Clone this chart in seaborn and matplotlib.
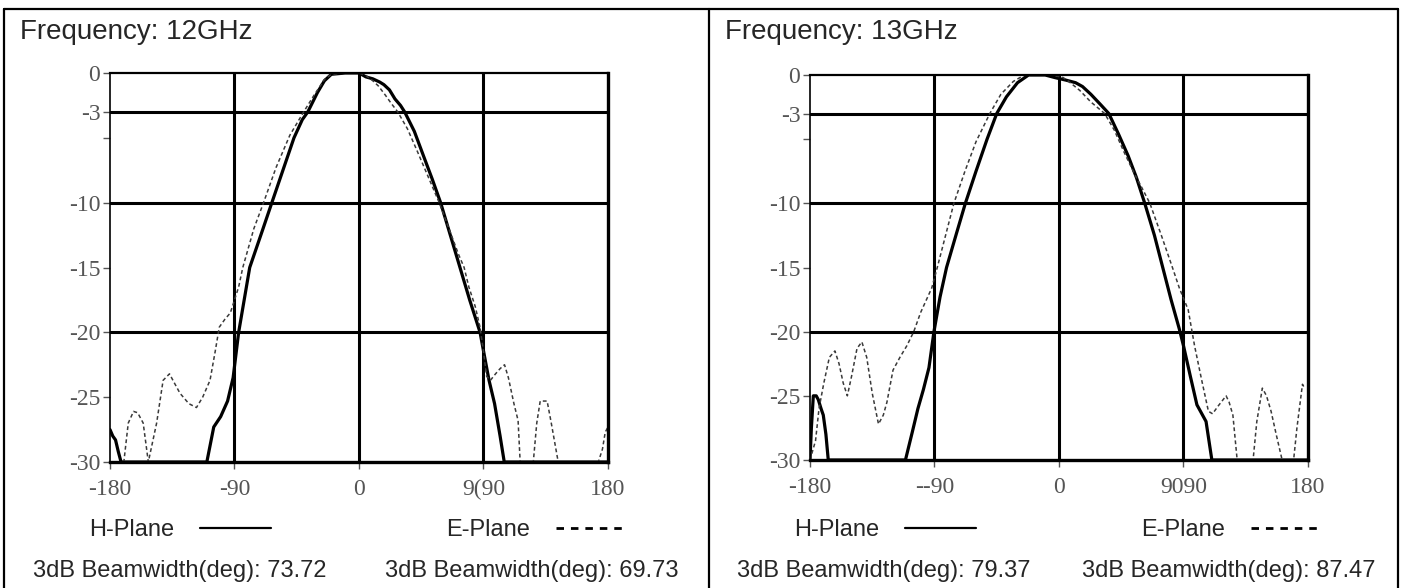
import matplotlib
matplotlib.use("Agg")
import matplotlib.pyplot as plt
from matplotlib.lines import Line2D
import pandas as pd
import seaborn as sns

# ---- 12 GHz pattern cuts: angle (deg) vs. normalised level (dB), floor at -30 dB ----
h12_deg = [-180, -178, -176, -174, -172, -110, -105, -100, -95, -91, -87, -83, -79,
           -70, -63, -55, -47, -41, -37, -30, -25, -20, -10, 0, 5, 10, 15, 18, 22,
           26, 30, 33, 40, 47, 53, 59, 66, 73, 80, 87.5, 91, 94, 98, 102, 105, 180]
h12_db = [-27.5, -28.0, -28.3, -29.2, -30, -30, -27.3, -26.5, -25.3, -23.5, -20, -17.5, -15,
          -12.2, -10, -7.5, -5, -3.6, -3, -1.5, -0.6, -0.1, 0, 0, -0.3, -0.45, -0.7, -0.9, -1.3,
          -2.0, -2.5, -3, -4.5, -6.5, -8.2, -10, -12.5, -15, -17.5, -20, -22, -23.7, -25.5, -28, -30, -30]

e12_deg = [-180, -170, -166.8, -163, -160, -156, -152.3, -146.3, -141.6, -137, -134, -129.4,
           -123, -117.5, -113, -107.7, -104, -101, -97, -93, -87, -84, -76, -69, -60, -50,
           -40, -33, -25, -20, -10, 0, 5, 10, 14, 19, 23, 28, 35, 42, 50, 58, 65, 72, 76,
           79.4, 84, 87.5, 90, 92.3, 95, 98.7, 102, 105.2, 108, 112, 115, 116.5, 126, 128.5,
           131, 136, 139, 144, 173, 176, 178, 180]
e12_db = [-30, -30, -27, -26.1, -26.2, -27, -30, -27, -23.7, -23.2, -23.8, -24.7,
          -25.5, -25.8, -25, -23.7, -21.5, -19.6, -19, -18.5, -16.5, -15, -12, -10, -7.3, -4.8,
          -3, -1.8, -0.5, -0.1, 0, 0, -0.2, -0.6, -1, -1.7, -2.3, -3, -4.3, -6, -8, -10, -12, -14, -15,
          -16.5, -18, -19.6, -21.5, -23.4, -23.7, -23.2, -22.8, -22.5, -23.5, -25.5, -26.8, -30, -30, -27,
          -25.3, -25.3, -27, -30, -30, -29, -27.7, -27.3]

# ---- 13 GHz pattern cuts ----
h13_deg = [-180, -179, -177.6, -175.5, -174, -172, -170.4, -168.5, -166.8, -111, -106, -102,
           -98, -94, -90.4, -86, -81.3, -74, -67.7, -60, -52, -45, -38, -30, -22, -10, -3,
           5, 12, 17, 23, 30, 36, 43, 50, 56, 62, 69, 75, 81, 87, 90, 95, 99.7, 106.3, 110.5, 180]
h13_db = [-30, -27.5, -25, -25, -25.3, -26, -26.5, -28, -30, -30, -27.8, -26,
          -24.5, -22.8, -20, -17.3, -15, -12.3, -10, -7.5, -5, -3, -1.7, -0.6, 0, 0, -0.2,
          -0.4, -0.6, -0.9, -1.5, -2.3, -3, -4.6, -6.3, -8, -10, -12.5, -15, -17.5, -19.8, -21.1, -23.5,
          -25.7, -27, -30, -30]

e13_deg = [-180, -176, -173.5, -170, -166, -162, -159, -156, -153, -150, -146, -142.5, -139,
           -135, -130.5, -127, -124.4, -120, -115, -110, -105, -100, -92, -88, -82, -76, -68,
           -60, -50, -42, -33, -25, -5, 3, 7, 15, 23, 33, 40, 47, 55, 60, 65.7, 74, 82, 87,
           93.4, 98, 103, 108, 111, 115, 120.8, 123, 125.7, 128.8, 140.3, 143, 147, 150, 153.3,
           157, 161.3, 169.6, 172, 176, 177]
e13_db = [-30, -28.5, -26, -24, -22, -21.5, -22.5, -24, -25, -23.5, -21.3, -20.8, -22,
          -24.8, -27.2, -26.5, -25.5, -23, -22, -21.1, -20, -18.5, -16.6, -15, -12.5, -10, -7.5,
          -5.2, -3, -1.5, -0.5, 0, 0, -0.2, -0.5, -1.2, -2.1, -3, -4.3, -6, -7.8, -8.8, -10, -12.5, -15, -16.6,
          -18.3, -21.1, -23.7, -26.2, -26.4, -25.8, -25, -25.5, -26.5, -30, -30, -27, -24.4, -25, -26.2,
          -28, -30, -30, -27.5, -24.1, -24.3]

x_ticks = [-180, -90, 0, 90, 180]
x_labels_12 = ["-180", "-90", "0", "9(90", "180"]
x_labels_13 = ["-180", "--90", "0", "9090", "180"]
y_ticks = [0, -3, -5, -10, -15, -20, -25, -30]
y_labels = ["0", "-3", "", "-10", "-15", "-20", "-25", "-30"]
grid_db = [-3, -10, -20]
grid_deg = [-90, 0, 90]

titles = ["Frequency: 12GHz", "Frequency: 13GHz"]
legend_names = ["H-Plane", "E-Plane"]
beamwidths_12 = ["3dB Beamwidth(deg): 73.72", "3dB Beamwidth(deg): 69.73"]
beamwidths_13 = ["3dB Beamwidth(deg): 79.37", "3dB Beamwidth(deg): 87.47"]

sns.set_style("white")
plt.rcParams["font.family"] = ["Liberation Sans", "DejaVu Sans"]

W, H = 1402, 588
fig = plt.figure(figsize=(W / 100, H / 100), dpi=100)
fig.patch.set_facecolor("white")


def fx(px):
    return px / W


def fy(py):
    return 1 - py / H


# panel frames
frame = dict(color="black", lw=1.6, transform=fig.transFigure, zorder=1)
fig.add_artist(Line2D([fx(4), fx(1398)], [fy(9), fy(9)], **frame))
for xp in (4, 709, 1398):
    fig.add_artist(Line2D([fx(xp), fx(xp)], [fy(9), 0], **frame))


def draw_panel(ax, h_deg, h_db, e_deg, e_db, xlabels):
    ax.set_facecolor("none")
    h = pd.DataFrame({"deg": h_deg, "db": h_db})
    e = pd.DataFrame({"deg": e_deg, "db": e_db})
    for g in grid_db:
        ax.axhline(g, color="black", lw=2.2, zorder=1)
    for g in grid_deg:
        ax.axvline(g, color="black", lw=2.2, zorder=1)
    sns.lineplot(data=h, x="deg", y="db", ax=ax, color="black", lw=2.3,
                 estimator=None, zorder=3)
    sns.lineplot(data=e, x="deg", y="db", ax=ax, color="#3a3a3a", lw=1.1,
                 linestyle=(0, (2.5, 1.8)), estimator=None, zorder=4)
    ax.set_xlim(-180, 180)
    ax.set_ylim(-30, 0)
    ax.set_xlabel("")
    ax.set_ylabel("")
    ax.set_xticks(x_ticks, xlabels)
    ax.set_yticks(y_ticks, y_labels)
    ax.tick_params(axis="both", direction="out", length=5, width=1.0, color="#555",
                   labelcolor="#555", labelsize=17, bottom=True, left=True)
    ax.tick_params(axis="x", pad=7)
    ax.tick_params(axis="y", pad=2)
    for lbl in ax.get_xticklabels() + ax.get_yticklabels():
        lbl.set_fontfamily("Liberation Serif")
    ax.spines["left"].set_linewidth(1.2)
    ax.spines["top"].set_linewidth(1.6)
    ax.spines["right"].set_linewidth(2.4)
    ax.spines["bottom"].set_linewidth(2.4)
    for s in ax.spines.values():
        s.set_color("black")
        s.set_zorder(5)


ax1 = fig.add_axes([fx(110), fy(462), (608 - 110) / W, (462 - 73) / H])
ax2 = fig.add_axes([fx(810), fy(460), (1308 - 810) / W, (460 - 75) / H])
draw_panel(ax1, h12_deg, h12_db, e12_deg, e12_db, x_labels_12)
draw_panel(ax2, h13_deg, h13_db, e13_deg, e13_db, x_labels_13)

handles = [Line2D([], [], color="black", lw=1.6),
           Line2D([], [], color="black", lw=2.0, linestyle=(0, (2.7, 2.5)))]
for ax, x0, spacing in [(ax1, 89, 7.4), (ax2, 794, 7.0)]:
    ax.legend(handles, legend_names, ncol=2, markerfirst=False, frameon=False,
              loc="center left", bbox_to_anchor=(fx(x0), fy(530)),
              bbox_transform=fig.transFigure, borderpad=0, borderaxespad=0,
              handlelength=3.0, handletextpad=1.1, columnspacing=spacing,
              prop={"family": "Liberation Sans", "size": 17})

fig.text(fx(20), fy(32), titles[0], fontsize=20, va="center", ha="left")
fig.text(fx(725), fy(32), titles[1], fontsize=20, va="center", ha="left")
for xp, txt in zip((33, 385), beamwidths_12):
    fig.text(fx(xp), fy(571), txt, fontsize=17, va="center", ha="left")
for xp, txt in zip((737, 1082), beamwidths_13):
    fig.text(fx(xp), fy(571), txt, fontsize=17, va="center", ha="left")

fig.savefig("out.png", dpi=100, facecolor="white")
